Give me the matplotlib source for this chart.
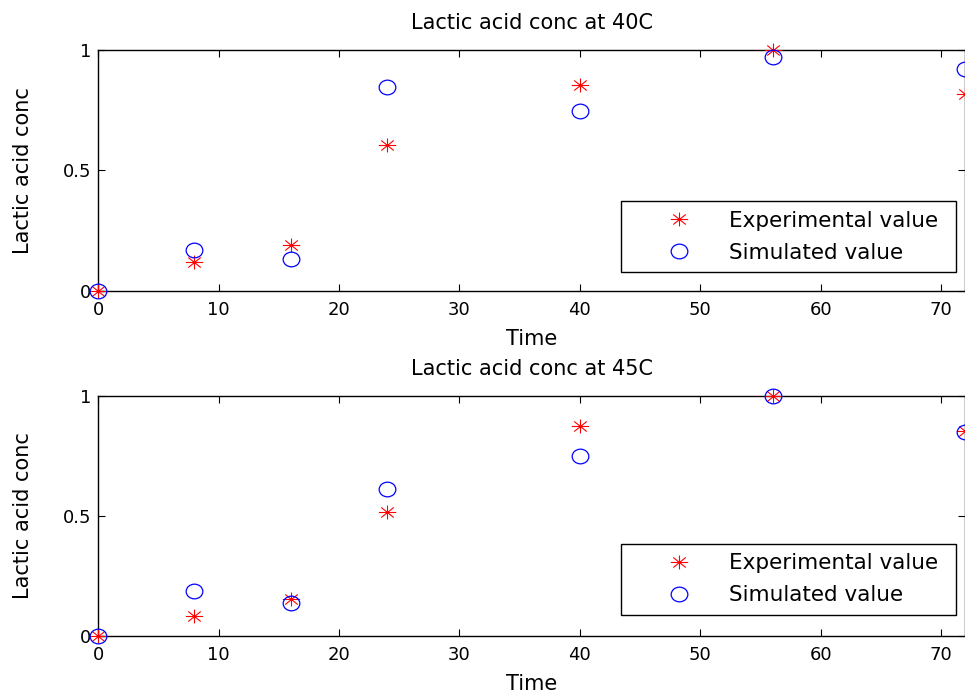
import matplotlib.pyplot as plt
from matplotlib.path import Path
from matplotlib.transforms import Affine2D

plt.rcParams['font.family'] = ['DejaVu Sans']

time = [0, 8, 16, 24, 40, 56, 72]

# 40C
exp_40 = [0.0, 0.117, 0.188, 0.604, 0.854, 1.0, 0.815]
sim_40 = [0.0, 0.167, 0.133, 0.846, 0.746, 0.972, 0.92]

# 45C
exp_45 = [0.0, 0.085, 0.156, 0.515, 0.877, 1.0, 0.854]
sim_45 = [0.0, 0.188, 0.136, 0.613, 0.75, 1.0, 0.85]

titles = ['Lactic acid conc at 40C', 'Lactic acid conc at 45C']
xticks = [0, 10, 20, 30, 40, 50, 60, 70]
yticks = [0, 0.5, 1]
ytick_labels = ['0', '0.5', '1']

# matlab style markers, a bit wider than tall like the original
ast = Path([(-1, 0), (1, 0), (0, -0.8), (0, 0.8),
            (-0.72, -0.58), (0.72, 0.58), (-0.72, 0.58), (0.72, -0.58)],
           [Path.MOVETO, Path.LINETO] * 4)
ring = Path.unit_circle().transformed(Affine2D().scale(1, 0.88))

fig = plt.figure(figsize=(9.65, 6.94), dpi=100)
ax1 = fig.add_axes([0.1016, 0.5814, 0.8988, 0.3466])
ax2 = fig.add_axes([0.1016, 0.0836, 0.8988, 0.3458])

leg_y = [0.075, 0.0875]

for ax, exp, sim, title, ly in zip([ax1, ax2], [exp_40, exp_45], [sim_40, sim_45], titles, leg_y):
    ax.plot(time, exp, linestyle='none', marker=ast, color='red', markersize=12.5,
            markerfacecolor='none', markeredgewidth=0.8,
            label='Experimental value', clip_on=False, zorder=3)
    ax.plot(time, sim, linestyle='none', marker=ring, markerfacecolor='none',
            markeredgecolor='blue', markersize=12, markeredgewidth=0.9,
            label='Simulated value', clip_on=False, zorder=3)
    ax.set_xlim(0, 72)
    ax.set_ylim(0, 1)
    ax.set_xticks(xticks)
    ax.set_yticks(yticks)
    ax.set_yticklabels(ytick_labels)
    ax.tick_params(direction='in', length=5, width=0.8, top=True, right=True,
                   labelsize=13)
    ax.tick_params(axis='x', pad=7.5)
    ax.tick_params(axis='y', pad=5)
    for s in ax.spines.values():
        s.set_linewidth(1.0)
    ax.set_title(title, fontsize=15, pad=15)
    ax.set_xlabel('Time', fontsize=15, labelpad=7)
    ax.set_ylabel('Lactic acid conc', fontsize=15, labelpad=21)
    leg = ax.legend(loc='lower left', bbox_to_anchor=(0.603, ly, 0.386, 0),
                    mode='expand', borderaxespad=0, fontsize=15.5,
                    fancybox=False, edgecolor='black', framealpha=1,
                    borderpad=0.45, handletextpad=0.05, handlelength=4.5,
                    labelspacing=0.55)
    leg.get_frame().set_linewidth(1.0)

fig.savefig('out.png', dpi=100)
